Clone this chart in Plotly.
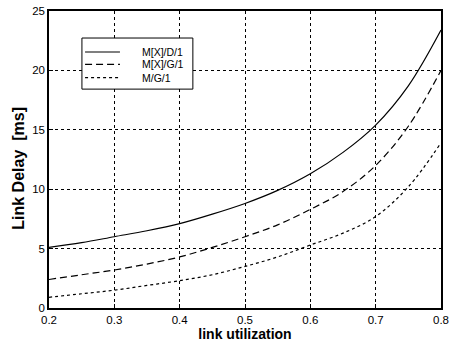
import plotly.graph_objects as go

utilization = [0.2, 0.25, 0.3, 0.35, 0.4, 0.45, 0.5, 0.55, 0.6, 0.65, 0.7, 0.75, 0.8]
delay_mxd1 = [5.1, 5.5, 6.0, 6.5, 7.1, 7.9, 8.8, 9.9, 11.3, 13.1, 15.4, 18.7, 23.4]
delay_mxg1 = [2.4, 2.8, 3.2, 3.7, 4.3, 5.1, 6.0, 7.0, 8.3, 9.8, 12.0, 15.3, 20.0]
delay_mg1 = [0.9, 1.2, 1.5, 1.9, 2.3, 2.8, 3.5, 4.3, 5.3, 6.3, 7.7, 10.2, 13.9]
series_names = ["M[X]/D/1", "M[X]/G/1", "M/G/1"]
x_ticks = [0.2, 0.3, 0.4, 0.5, 0.6, 0.7, 0.8]
y_ticks = [0, 5, 10, 15, 20, 25]

dashes = ["solid", "7px,4px", "3px,3px"]
series = [delay_mxd1, delay_mxg1, delay_mg1]

fig = go.Figure()
for name, vals, d in zip(series_names, series, dashes):
    fig.add_trace(go.Scatter(x=utilization, y=vals, mode="lines", name=name,
                             line=dict(color="black", width=1.2, dash=d, shape="spline"),
                             showlegend=False))

font_family = "Liberation Sans, Arial, sans-serif"
fig.update_layout(
    width=452, height=343,
    margin=dict(l=49, r=11, t=11, b=35),
    plot_bgcolor="white", paper_bgcolor="white",
    font=dict(family=font_family, color="black", size=11),
    xaxis=dict(range=[0.2, 0.8], tickvals=x_ticks, ticktext=[f"{v:.1f}" for v in x_ticks],
               tickfont=dict(size=11.5), ticklabelstandoff=0, automargin=False,
               showgrid=True, gridcolor="black", griddash="3px,3px", gridwidth=1,
               showline=True, linecolor="black", linewidth=1.5, mirror=True,
               ticks="inside", ticklen=4, tickcolor="black", zeroline=False,
               title=dict(text="<b>link utilization</b>", font=dict(size=14), standoff=1)),
    yaxis=dict(range=[0, 25], tickvals=y_ticks, tickfont=dict(size=11.5), automargin=False,
               showgrid=True, gridcolor="black", griddash="3px,3px", gridwidth=1,
               showline=True, linecolor="black", linewidth=1.5, mirror=True,
               ticks="inside", ticklen=4, tickcolor="black", zeroline=False,
               title=dict(text="<b>Link Delay\u00a0 [ms]\u00a0\u00a0\u00a0\u00a0</b>",
                          font=dict(size=16), standoff=4)),
)

# legend box drawn in paper coordinates
fig.add_shape(type="rect", xref="paper", yref="paper", x0=0.084, x1=0.367, y0=0.737, y1=0.909,
              line=dict(color="black", width=1), fillcolor="white", layer="above")
rows = [0.862, 0.820, 0.776]
for name, d, yy in zip(series_names, dashes, rows):
    fig.add_shape(type="line", xref="paper", yref="paper", x0=0.092, x1=0.181, y0=yy, y1=yy,
                  line=dict(color="black", width=1.2, dash=d), layer="above")
    fig.add_annotation(xref="paper", yref="paper", x=0.232, y=yy, text=name, showarrow=False,
                       xanchor="left", yanchor="middle", font=dict(size=10.5))

fig.write_html("out.html", config={"displayModeBar": False},
               post_script="document.body.style.margin='0';")
